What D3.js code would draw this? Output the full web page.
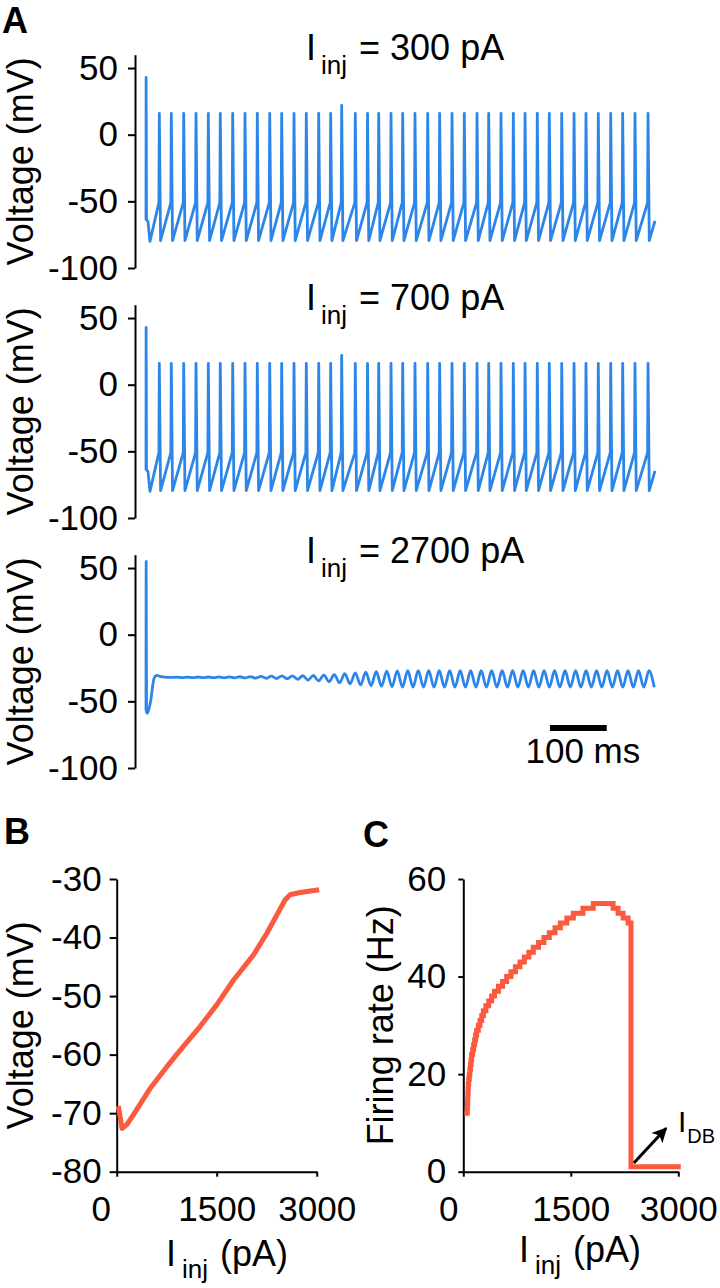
<!DOCTYPE html>
<html><head><meta charset="utf-8">
<script src="https://cdn.jsdelivr.net/npm/d3@7"></script>
<style>
body{margin:0;background:#fff}
svg{display:block}
text{font-family:"Liberation Sans",Arial,Helvetica,sans-serif;fill:#000}
</style>
</head><body>
<svg id="c" width="720" height="1288"></svg>
<script>
// ---------- DATA ----------
const panelCurrents = ["300 pA", "700 pA", "2700 pA"];
const voltTicksA = [-100, -50, 0, 50];

// regular firing (300 and 700 pA), times in ms
const onsetT = [0, 0.2, 0.9, 3.5, 7];
const onsetV = [-64, 43, -64, -65, -80];
const spikeTimes = [23.5, 44.6, 66.5, 88.2, 109.9, 131.0, 152.9, 174.6, 196.3, 218.2,
  239.3, 261.0, 282.7, 304.6, 325.7, 345.1, 369.1, 390.7, 410.4, 432.1,
  452.7, 474.4, 496.8, 517.9, 539.7, 561.4, 583.8, 604.4, 626.1, 647.8,
  668.5, 690.1, 711.3, 733.2, 754.9, 776.0, 797.7, 819.6, 840.7, 862.4, 885.4];
const spikePeakMV = [16,16,16,16,16,16,16,16,16,16,16,16,16,16,16,22,16,16,16,16,
  16,16,16,16,16,16,16,16,16,16,16,16,16,16,16,16,16,16,16,16,16];
const preSpikeLead = 0.8, preSpikeV = -51;
const troughDelay = 2.2, troughV = -79.5;
const traceEndT = 897.7, traceEndV = -64.7;

// depolarization block (2700 pA)
const onset3T = [0, 0.3, 1.0, 2.5, 8.3, 14, 19, 26, 40, 50];
const onset3V = [-57, 55, -58, -59, -49.5, -33, -30.5, -31.5, -32, -32];
const oscStart = 50, oscPeriod = 18.5;
const oscAmp = [0.2,0.2,0.25,0.25,0.3,0.35,0.45,0.55,0.7,0.85,
  1.05,1.3,1.6,2.0,2.5,3.1,3.8,4.5,5.1,5.5,
  5.8,6.1,6.2,6.2,6.2,6.2,6.2,6.2,6.2,6.2,
  6.2,6.2,6.2,6.2,6.2,6.2,6.2,6.2,6.2,6.2,
  6.2,6.2,6.2,6.2,6.2,6.2];
const oscMid = [-32,-32,-32,-32,-32,-32,-32,-32,-32,-32,
  -32,-32.2,-32.4,-32.6,-32.8,-33,-33.1,-33.2,-33.2,-33.2,
  -33.2,-33.2,-33.2,-33.2,-33.2,-33.2,-33.2,-33.2,-33.2,-33.2,
  -33.2,-33.2,-33.2,-33.2,-33.2,-33.2,-33.2,-33.2,-33.2,-33.2,
  -33.2,-33.2,-33.2,-33.2,-33.2,-33.2];
const scaleBarStart = 712.5, scaleBarLen = 100;

// Panel B: steady voltage vs injected current
const currentTicks = [0, 1500, 3000];
const voltTicksB = [-80, -70, -60, -50, -40, -30];
const vI = [30, 80, 150, 250, 500, 750, 1000, 1250, 1500, 1750, 2050, 2250, 2400, 2525, 2600, 2750, 3000];
const vMV = [-69.2, -72.6, -72.0, -70.3, -65.8, -62.1, -58.6, -55.2, -51.5, -47.3, -43.0, -39.3, -36.2, -33.6, -32.7, -32.3, -31.9];

// Panel C: firing rate vs injected current
const rateTicks = [0, 20, 40, 60];
const rateI = [50,55,58,61,64,67,70,76,84,92,100,108,116,130,144,158,172,186,210,233,257,280,
  315,355,395,435,490,548,605,665,727,790,852,915,977,1050,1125,1200,1280,1355,1445,1535,
  1670,1814,2090,2160,2230,2300,2340,3000];
const rateHz = [12,13,14,15,16,17,18,19,20,21,22,23,24,25,26,27,28,29,30,31,32,33,
  34,35,36,37,38,39,40,41,42,43,44,45,46,47,48,49,50,51,52,53,
  54,55,54,53,52,51,1,1];
const idbFrom = [2380, 1.8], idbTo = [2830, 8.9];

// ---------- DRAW ----------
const svg = d3.select("#c");
svg.append("rect").attr("width",720).attr("height",1288).attr("fill","#fff");
const blue = "#2c86ea", red = "#fb5a3e";
const TICK_FS = 35, LAB_FS = 36, SUB_FS = 26;
const fmt = d => String(d);

function styleAxis(g, fs) {
  g.attr("font-size", null).attr("font-family", null);
  g.select(".domain").attr("stroke", "#000").attr("stroke-width", 2);
  g.selectAll(".tick line").attr("stroke", "#000").attr("stroke-width", 2);
  g.selectAll(".tick text").attr("font-size", fs).attr("fill", "#000");
}

function subLabel(parent, x, y, main, sub, rest, opts) {
  const t = parent.append("text").attr("x", x).attr("y", y).attr("font-size", opts.fs);
  t.append("tspan").text(main);
  t.append("tspan").attr("font-size", opts.sfs).attr("dx", opts.sdx).attr("dy", opts.sdy).text(sub);
  if (rest) t.append("tspan").attr("font-size", opts.fs).attr("dy", -opts.sdy).attr("dx", opts.rdx || 0).text(rest);
  return t;
}

// panel letters
svg.append("text").attr("x", 2).attr("y", 33).attr("font-size", 36).attr("font-weight", "bold").text("A");
svg.append("text").attr("x", 4).attr("y", 844).attr("font-size", 36).attr("font-weight", "bold").text("B");
svg.append("text").attr("x", 363).attr("y", 847).attr("font-size", 36).attr("font-weight", "bold").text("C");

// Panel A
const xT = d3.scaleLinear().domain([0, 900]).range([146, 656.3]);

function regularTrace() {
  const pts = onsetT.map((t, i) => [t, onsetV[i]]);
  spikeTimes.forEach((t, i) => {
    pts.push([t - preSpikeLead, preSpikeV]);
    pts.push([t, spikePeakMV[i]]);
    pts.push([t + troughDelay, troughV]);
  });
  pts.push([traceEndT, traceEndV]);
  return pts;
}
function blockTrace() {
  const pts = onset3T.map((t, i) => [t, onset3V[i]]);
  oscAmp.forEach((a, k) => {
    const t0 = oscStart + k * oscPeriod;
    pts.push([t0 + oscPeriod / 4, oscMid[k] + a]);
    pts.push([t0 + 3 * oscPeriod / 4, oscMid[k] - a]);
  });
  return pts;
}

const titleBase = [60, 310, 563];
panelCurrents.forEach((cur, i) => {
  const off = 250 * i;
  const y = d3.scaleLinear().domain([-100, 60]).range([268 + off, 54.7 + off]);
  const g = svg.append("g");
  const ax = g.append("g").attr("transform", "translate(135,0)")
    .call(d3.axisLeft(y).tickValues(voltTicksA).tickFormat(fmt).tickSize(7).tickPadding(10).tickSizeOuter(0));
  styleAxis(ax, TICK_FS);
  g.append("text").attr("transform", `translate(33,${(y(-100) + y(60)) / 2}) rotate(-90)`)
    .attr("text-anchor", "middle").attr("font-size", LAB_FS).text("Voltage (mV)");
  subLabel(g, 306, titleBase[i], "I", "inj", " = " + cur, {fs: LAB_FS, sfs: SUB_FS, sdx: 5, sdy: 14, rdx: 2});
  const data = i < 2 ? regularTrace() : blockTrace();
  const line = d3.line().x(d => xT(d[0])).y(d => y(d[1]))
    .curve(i < 2 ? d3.curveLinear : d3.curveMonotoneX);
  g.append("path").attr("d", line(data)).attr("fill", "none").attr("stroke", blue)
    .attr("stroke-width", 2.8).attr("stroke-linejoin", "round");
  if (i === 2) {
    g.append("line").attr("x1", xT(scaleBarStart)).attr("x2", xT(scaleBarStart + scaleBarLen))
      .attr("y1", 728).attr("y2", 728).attr("stroke", "#000").attr("stroke-width", 6);
    g.append("text").attr("x", 525.5).attr("y", 763).attr("font-size", TICK_FS).text("100 ms");
  }
});

// Panel B
(function () {
  const x = d3.scaleLinear().domain([0, 3000]).range([116.7, 316.7]);
  const y = d3.scaleLinear().domain([-80, -30]).range([1171.7, 879]);
  const g = svg.append("g");
  const ay = g.append("g").attr("transform", `translate(${x(0)},0)`)
    .call(d3.axisLeft(y).tickValues(voltTicksB).tickFormat(fmt).tickSize(7).tickPadding(8).tickSizeOuter(0));
  styleAxis(ay, TICK_FS);
  const axx = g.append("g").attr("transform", `translate(0,${y(-80)})`)
    .call(d3.axisBottom(x).tickValues(currentTicks).tickFormat(fmt).tickSize(5).tickPadding(19).tickSizeOuter(0));
  styleAxis(axx, TICK_FS);
  axx.selectAll(".tick text").filter(d => d === 0).attr("dx", -16);
  g.append("text").attr("transform", `translate(33,${(y(-80) + y(-30)) / 2}) rotate(-90)`)
    .attr("text-anchor", "middle").attr("font-size", LAB_FS).text("Voltage (mV)");
  subLabel(g, 166, 1266, "I", "inj", " (pA)", {fs: LAB_FS, sfs: SUB_FS, sdx: 6, sdy: 12, rdx: 2});
  const line = d3.line().x((d, i) => x(vI[i])).y(d => y(d));
  g.append("path").attr("d", line(vMV)).attr("fill", "none").attr("stroke", red)
    .attr("stroke-width", 5).attr("stroke-linejoin", "round").attr("stroke-linecap", "square");
})();

// Panel C
(function () {
  const x = d3.scaleLinear().domain([0, 3000]).range([463.3, 678.3]);
  const y = d3.scaleLinear().domain([0, 60]).range([1171.7, 879]);
  const g = svg.append("g");
  const ay = g.append("g").attr("transform", `translate(${x(0)},0)`)
    .call(d3.axisLeft(y).tickValues(rateTicks).tickFormat(fmt).tickSize(5).tickPadding(12).tickSizeOuter(0));
  styleAxis(ay, TICK_FS);
  const axx = g.append("g").attr("transform", `translate(0,${y(0)})`)
    .call(d3.axisBottom(x).tickValues(currentTicks).tickFormat(fmt).tickSize(5).tickPadding(19).tickSizeOuter(0));
  styleAxis(axx, TICK_FS);
  axx.selectAll(".tick text").filter(d => d === 0).attr("dx", -15);
  g.append("text").attr("transform", `translate(393,${(y(0) + y(60)) / 2}) rotate(-90)`)
    .attr("text-anchor", "middle").attr("font-size", LAB_FS).text("Firing rate (Hz)");
  subLabel(g, 519, 1262, "I", "inj", " (pA)", {fs: LAB_FS, sfs: SUB_FS, sdx: 6, sdy: 12, rdx: 2});
  const line = d3.line().x((d, i) => x(rateI[i])).y(d => y(d)).curve(d3.curveStepAfter);
  g.append("path").attr("d", line(rateHz)).attr("fill", "none").attr("stroke", red)
    .attr("stroke-width", 5).attr("stroke-linejoin", "miter").attr("stroke-linecap", "square");
  // I_DB arrow
  const defs = svg.append("defs");
  defs.append("marker").attr("id", "ah").attr("viewBox", "0 0 10 10").attr("refX", 9).attr("refY", 5)
    .attr("markerWidth", 17).attr("markerHeight", 15).attr("markerUnits", "userSpaceOnUse").attr("orient", "auto")
    .append("path").attr("d", "M0,0 L10,5 L0,10 L2.5,5 z").attr("fill", "#000");
  g.append("line").attr("x1", x(idbFrom[0])).attr("y1", y(idbFrom[1]))
    .attr("x2", x(idbTo[0])).attr("y2", y(idbTo[1]))
    .attr("stroke", "#000").attr("stroke-width", 3).attr("marker-end", "url(#ah)");
  subLabel(g, 678, 1132, "I", "DB", null, {fs: 30, sfs: 20, sdx: 1, sdy: 11});
})();
</script>
</body></html>
